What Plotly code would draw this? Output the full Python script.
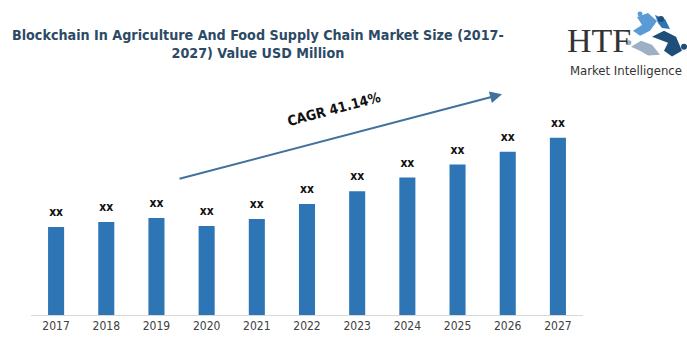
import plotly.graph_objects as go

# ---- data ----
years = ["2017", "2018", "2019", "2020", "2021", "2022", "2023", "2024", "2025", "2026", "2027"]
values = [89, 94, 98, 90, 97, 112, 125, 139, 152, 165, 179]
value_labels = ["xx"] * len(years)
title_text = "<b>Blockchain In Agriculture And Food Supply Chain Market Size (2017-<br>2027) Value USD Million</b>"
cagr_text = "<b>CAGR 41.14%</b>"

W, H = 687, 345
L, R, T, B = 31, 104, 117, 28
PW, PH = W - L - R, H - T - B

def fx(x):
    return (x - L) / PW

def fy(y):
    return (H - B - y) / PH

COND = "DejaVu Sans Condensed"
BAR = "#2E75B6"
fig = go.Figure()
fig.add_trace(go.Bar(x=years, y=values, marker=dict(color=BAR, line=dict(width=0)),
                     hoverinfo="skip", showlegend=False))
fig.add_trace(go.Scatter(x=years, y=[v + 14 for v in values], mode="text",
                         text=[f"<b>{t}</b>" for t in value_labels],
                         textfont=dict(family=COND, size=12, color="#111111"),
                         textposition="middle center", hoverinfo="skip", showlegend=False,
                         cliponaxis=False))

ann = []
ann.append(dict(xref="paper", yref="paper", x=fx(258), y=fy(43), text=title_text, showarrow=False,
                xanchor="center", yanchor="middle", align="center",
                font=dict(family=COND, size=14.2, color="#2C4A66")))
# arrow
ann.append(dict(xref="paper", yref="paper", x=fx(502), y=fy(94), axref="pixel", ayref="pixel",
                ax=178 - 502, ay=179 - 94, showarrow=True, arrowhead=2, arrowsize=1.2,
                arrowwidth=2, arrowcolor="#41719C", text=""))
ann.append(dict(xref="paper", yref="paper", x=fx(334), y=fy(109), text=cagr_text, showarrow=False,
                textangle=-15, font=dict(family=COND, size=14, color="#111111"),
                xanchor="center", yanchor="middle"))
# logo
ann.append(dict(xref="paper", yref="paper", x=fx(599), y=fy(40), text="HTF", showarrow=False,
                font=dict(family="Liberation Serif", size=34, color="#333333"),
                xanchor="center", yanchor="middle"))
ann.append(dict(xref="paper", yref="paper", x=fx(626), y=fy(70), text="Market Intelligence", showarrow=False,
                font=dict(family=COND, size=13, color="#333333"),
                xanchor="center", yanchor="middle"))

shapes = []
def path(pts, color):
    d = "M " + " L ".join(f"{fx(a)},{fy(b)}" for a, b in pts) + " Z"
    shapes.append(dict(type="path", xref="paper", yref="paper", path=d,
                       fillcolor=color, line=dict(width=0), layer="above"))
def dot(cx, cy, r, color):
    shapes.append(dict(type="circle", xref="paper", yref="paper",
                       x0=fx(cx - r), x1=fx(cx + r), y0=fy(cy + r), y1=fy(cy - r),
                       fillcolor=color, line=dict(width=0)))
# stylized figures of logo
path([(637, 16), (648, 12), (657, 20), (650, 30), (640, 35), (633, 30), (642, 24)], "#5B9BD5")
path([(652, 36), (664, 30), (676, 36), (682, 50), (672, 56), (664, 50), (668, 42)], "#1F4E79")
path([(631, 46), (641, 40), (652, 44), (660, 54), (648, 55), (640, 50)], "#9DB0C4")
path([(655, 14), (665, 18), (670, 28), (662, 27), (658, 22)], "#2E75B6")
dot(661, 18, 3, "#1F4E79")
dot(684, 46, 3, "#1F4E79")
dot(629, 42, 2.5, "#9DB0C4")
dot(640, 13, 2.5, "#5B9BD5")

fig.update_layout(
    width=W, height=H, margin=dict(l=L, r=R, t=T, b=B),
    paper_bgcolor="white", plot_bgcolor="white",
    bargap=0.68, annotations=ann, shapes=shapes,
    xaxis=dict(type="category", range=[-0.5, 10.5], showgrid=False, showline=True,
               linecolor="#D9D9D9", linewidth=1, ticks="", zeroline=False,
               tickfont=dict(family=COND, size=12, color="#404040")),
    yaxis=dict(range=[0, 200], visible=False, showgrid=False, zeroline=False),
)
fig.write_html("out.html")
